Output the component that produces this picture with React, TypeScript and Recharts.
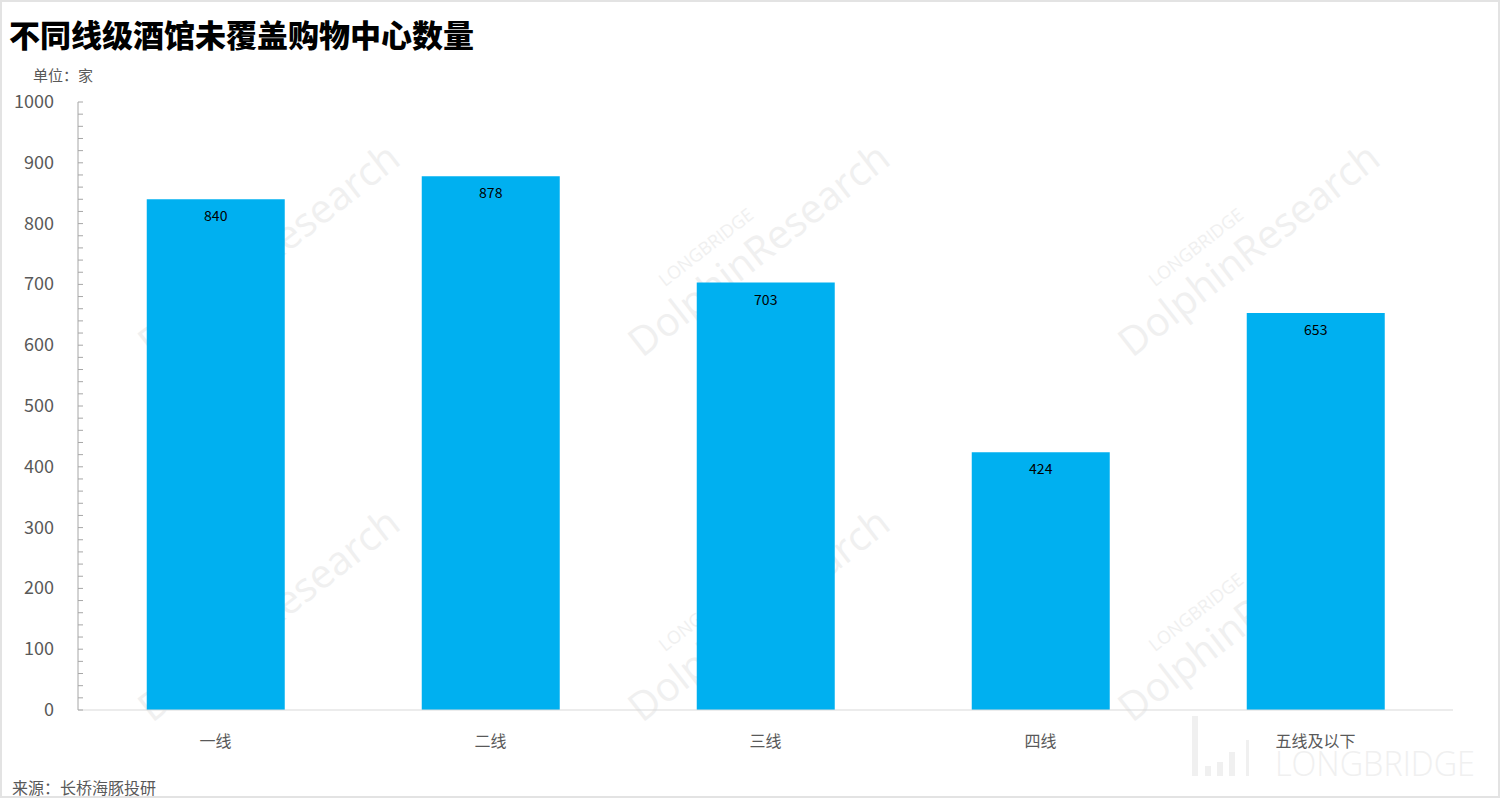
import React from 'react';
import { BarChart, Bar, XAxis, YAxis, LabelList } from 'recharts';

const categories = ['一线', '二线', '三线', '四线', '五线及以下'];
const counts = [840, 878, 703, 424, 653];
const yTicks = [0, 20, 40, 60, 80, 100, 120, 140, 160, 180, 200, 220, 240, 260, 280, 300, 320, 340, 360, 380, 400,
  420, 440, 460, 480, 500, 520, 540, 560, 580, 600, 620, 640, 660, 680, 700, 720, 740, 760, 780, 800,
  820, 840, 860, 880, 900, 920, 940, 960, 980, 1000];

const data = categories.map((name, i) => ({ name, value: counts[i] }));

const FONT = '"Noto Sans CJK SC", "Noto Sans", sans-serif';
const WM = '#f0f0f0';

/* y tick: label every 100, small inward tick every 20 */
function YTick(props: any) {
  const { x, y, payload } = props;
  const major = payload.value % 100 === 0;
  return (
    <g>
      <line x1={x + 24} x2={x + 29} y1={y} y2={y} stroke="#a6a6a6" strokeWidth={1} />
      {major && (
        <text x={x} y={y} dy={6} textAnchor="end" fill="#595959" fontSize={18} fontFamily={FONT}>
          {payload.value}
        </text>
      )}
    </g>
  );
}

/* faint watermark behind the bars */
function Watermark({ x, y }: { x: number; y: number }) {
  return (
    <g transform={`translate(${x},${y}) rotate(-38)`}>
      <text x={-40} y={-22} textAnchor="middle" fontSize={18} fill={WM} fontFamily="Open Sans, sans-serif">LONGBRIDGE</text>
      <text x={0} y={20} textAnchor="middle" fontSize={40} fill={WM} fontFamily="Open Sans, sans-serif">DolphinResearch</text>
    </g>
  );
}

export default function App() {
  return (
    <div style={{ position: 'absolute', left: 0, top: 0, width: 1500, height: 798, background: '#fff', fontFamily: FONT }}>
      <div style={{ position: 'absolute', inset: 0, border: '2px solid #e3e3e3', boxSizing: 'border-box' }} />
      <svg width={1500} height={798} style={{ position: 'absolute', left: 0, top: 0 }}>
        <Watermark x={265} y={245} />
        <Watermark x={755} y={245} />
        <Watermark x={1245} y={245} />
        <Watermark x={265} y={610} />
        <Watermark x={755} y={610} />
        <Watermark x={1245} y={610} />
        <rect x={1192} y={716} width={6} height={60} fill={WM} />
        <rect x={1205} y={766} width={6} height={10} fill={WM} />
        <rect x={1217} y={762} width={6} height={14} fill={WM} />
        <rect x={1229} y={752} width={6} height={24} fill={WM} />
        <rect x={1246} y={740} width={3} height={36} fill={WM} />
        <text x={1275} y={776} fontSize={34} fontWeight={300} fill={WM} fontFamily="Open Sans, sans-serif"
          textLength={200} lengthAdjust="spacingAndGlyphs">LONGBRIDGE</text>
      </svg>
      <div style={{ position: 'absolute', left: 9, top: 14, fontSize: 31, fontWeight: 900, color: '#000', lineHeight: '40px' }}>
        不同线级酒馆未覆盖购物中心数量
      </div>
      <div style={{ position: 'absolute', left: 33, top: 64, fontSize: 15, color: '#595959' }}>单位：家</div>
      <div style={{ position: 'absolute', left: 12, top: 775, fontSize: 16, color: '#595959' }}>来源：长桥海豚投研</div>
      <div style={{ position: 'absolute', left: 0, top: 0 }}>
        <BarChart width={1500} height={798} data={data} barCategoryGap="25%"
          margin={{ top: 102, right: 47, left: 0, bottom: 58 }}>
          <XAxis dataKey="name" height={30} axisLine={{ stroke: '#d9d9d9' }} tickLine={false} tickMargin={20}
            tick={{ fill: '#595959', fontSize: 16, fontFamily: FONT }} interval={0} />
          <YAxis width={78} domain={[0, 1000]} ticks={yTicks} interval={0} tickSize={0} tickMargin={24}
            axisLine={{ stroke: '#a6a6a6' }} tickLine={false} tick={<YTick />} />
          <Bar dataKey="value" fill="#00B0F0" isAnimationActive={false}>
            <LabelList dataKey="value" position="insideTop" offset={12} fill="#000" fontSize={14} fontFamily={FONT} />
          </Bar>
        </BarChart>
      </div>
    </div>
  );
}
